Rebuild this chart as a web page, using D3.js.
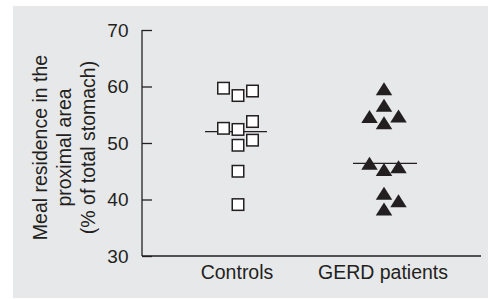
<!DOCTYPE html>
<html><head><meta charset="utf-8">
<script src="https://cdn.jsdelivr.net/npm/d3@7"></script>
<style>html,body{margin:0;padding:0;background:#fff;}svg{display:block;}</style>
</head><body>
<script>
const categories = ["Controls", "GERD patients"];
const yTicks = [30, 40, 50, 60, 70];
// Controls: values with horizontal jitter column (-1,0,1)
const controlsValues = [59.7, 58.4, 59.2, 52.6, 52.4, 53.8, 49.6, 50.5, 45.0, 39.1];
const controlsCols   = [-1, 0, 1, -1, 0, 1, 0, 1, 0, 0];
const gerdValues = [59.6, 56.7, 54.7, 54.8, 53.6, 46.4, 45.3, 45.8, 41.1, 39.8, 38.3];
const gerdCols   = [0, 0, -1, 1, 0, -1, 0, 1, 0, 1, 0];
const medians = [52.0, 46.4];
const yLabelLines = ["Meal residence in the", "proximal area", "(% of total stomach)"];

const W = 488, H = 299;
const svg = d3.select("body").append("svg").attr("width", W).attr("height", H);
svg.append("rect").attr("x", 13).attr("y", 6).attr("width", W - 13).attr("height", 292).attr("fill", "#e7e8ea");

const font = "'Liberation Sans', Arial, Helvetica, sans-serif";
const ink = "#231f20";
const fs = 19.5;
const y = d3.scaleLinear().domain([30, 70]).range([256, 30]);
const x = d3.scalePoint().domain(categories).range([238, 384]);
const axisX = 142, axisRight = 481;

const g = svg.append("g");
// y axis
const yAxis = d3.axisRight(y).tickValues(yTicks).tickSize(10).tickFormat("");
const ya = g.append("g").attr("transform", `translate(${axisX},0)`).call(yAxis);
ya.select(".domain").remove();
ya.selectAll("line").attr("stroke", ink).attr("stroke-width", 1.3);
g.append("line").attr("x1", axisX).attr("x2", axisX).attr("y1", y(70)).attr("y2", y(30)).attr("stroke", ink).attr("stroke-width", 1.3);
g.append("line").attr("x1", axisX).attr("x2", axisRight).attr("y1", y(30)).attr("y2", y(30)).attr("stroke", ink).attr("stroke-width", 1.3);

g.selectAll("text.ytick").data(yTicks).join("text")
  .attr("x", 128.5).attr("y", d => y(d)).attr("dy", "0.36em")
  .attr("text-anchor", "end").attr("font-family", font).attr("font-size", 19).attr("fill", ink)
  .text(d => d);

g.selectAll("text.cat").data(categories).join("text")
  .attr("x", d => x(d) - 1).attr("y", 279)
  .attr("text-anchor", "middle").attr("font-family", font).attr("font-size", fs).attr("fill", ink)
  .text(d => d);

const yl = g.append("text").attr("transform", "translate(40,147.5) rotate(-90)")
  .attr("text-anchor", "middle").attr("font-family", font).attr("font-size", fs).attr("fill", ink);
yLabelLines.forEach((t, i) => {
  yl.append("tspan").attr("x", 0).attr("y", 7 + i * 24).text(t);
});

const dx = 14.5, sq = 11.5;
// median lines
g.append("line").attr("x1", x(categories[0]) - 33).attr("x2", x(categories[0]) + 29)
  .attr("y1", y(medians[0])).attr("y2", y(medians[0])).attr("stroke", ink).attr("stroke-width", 1.3);
g.append("line").attr("x1", x(categories[1]) - 31).attr("x2", x(categories[1]) + 33)
  .attr("y1", y(medians[1])).attr("y2", y(medians[1])).attr("stroke", ink).attr("stroke-width", 1.3);

g.selectAll("rect.ctrl").data(controlsValues).join("rect")
  .attr("x", (d, i) => x(categories[0]) + controlsCols[i] * dx - sq / 2)
  .attr("y", d => y(d) - sq / 2).attr("width", sq).attr("height", sq)
  .attr("fill", "#fff").attr("stroke", ink).attr("stroke-width", 1.5);

const tw = 16.5, th = 13;
g.selectAll("path.gerd").data(gerdValues).join("path")
  .attr("d", (d, i) => {
    const cx = x(categories[1]) + gerdCols[i] * dx, cy = y(d);
    return `M${cx},${cy - th / 2}L${cx + tw / 2},${cy + th / 2}L${cx - tw / 2},${cy + th / 2}Z`;
  })
  .attr("fill", ink);
</script>
</body></html>
